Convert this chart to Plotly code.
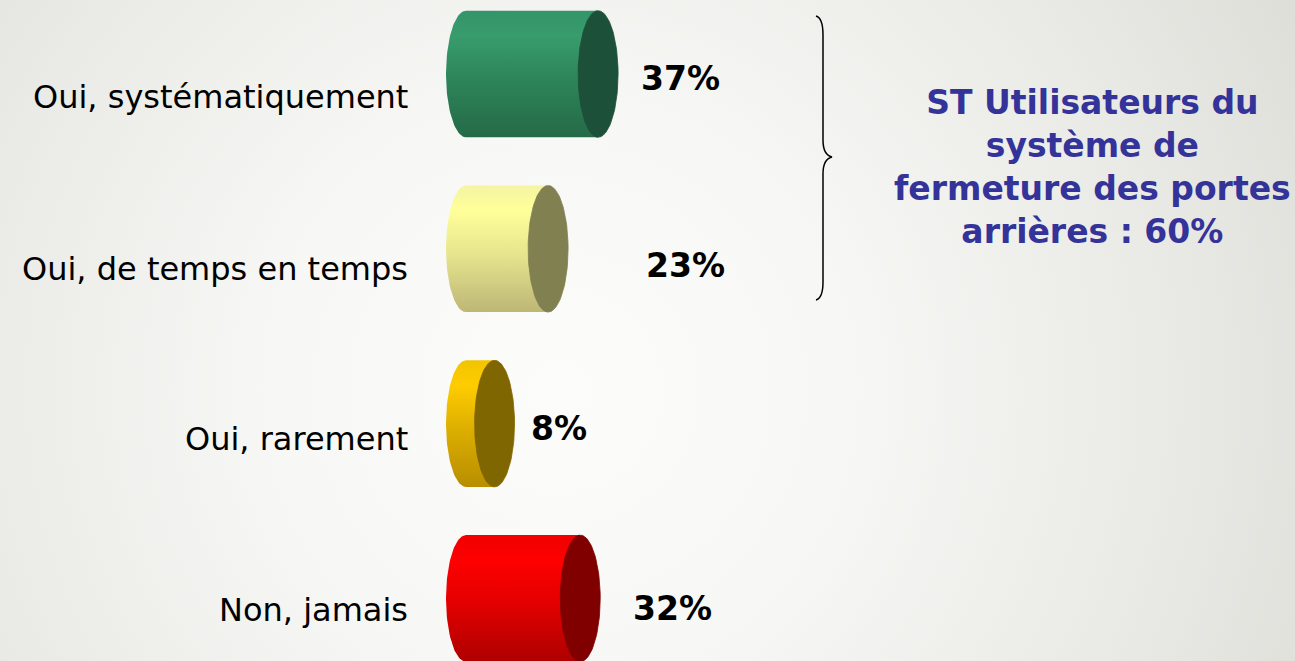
import base64
import numpy as np
import plotly.graph_objects as go

# ---- data ----
categories = ["Oui, systématiquement", "Oui, de temps en temps", "Oui, rarement", "Non, jamais"]
values = [37, 23, 8, 32]
value_labels = ["37%", "23%", "8%", "32%"]
side_note = "ST Utilisateurs du<br>système de<br>fermeture des portes<br>arrières : 60%"

# ---- styles ----
body_scales = [
    [[0, "#34946a"], [0.2, "#389c6c"], [0.55, "#2d8459"], [1, "#256a47"]],
    [[0, "#f4f4a4"], [0.2, "#ffff99"], [0.55, "#e6e48e"], [1, "#bdb676"]],
    [[0, "#f2c400"], [0.2, "#ffcc00"], [0.55, "#dcae00"], [1, "#b88e00"]],
    [[0, "#f00000"], [0.2, "#ff0000"], [0.55, "#e20000"], [1, "#ae0000"]],
]
cap_colors = ["#1d5038", "#808050", "#806600", "#800000"]
label_yshift = [-23, -20, -15, -12]
value_xshift = [41, 96, 34, 51]
value_yshift = [-4, -17, -5, -10]

W, H = 1295, 661
A = 5.6     # half width of ellipse (x units)
HH = 0.362  # half height of cylinder (category units)

fig = go.Figure()
t = np.linspace(-np.pi / 2, np.pi / 2, 60)
tf = np.linspace(0, 2 * np.pi, 120)
for i, (cat, v) in enumerate(zip(categories, values)):
    yc = i
    xs = list(-A * np.cos(t)) + [v, v, 0]
    ys = list(yc + HH * np.sin(t)) + [yc + HH, yc - HH, yc - HH]
    fig.add_trace(go.Scatter(
        x=xs, y=ys, fill="toself", mode="lines", line=dict(width=0),
        fillgradient=dict(type="vertical", colorscale=body_scales[i],
                          start=yc - HH, stop=yc + HH),
        hoverinfo="skip", showlegend=False))
    fig.add_trace(go.Scatter(
        x=v + A * np.cos(tf), y=yc + HH * np.sin(tf), fill="toself", mode="lines",
        line=dict(width=0.8, color=cap_colors[i]), fillcolor=cap_colors[i],
        hoverinfo="skip", showlegend=False))
    fig.add_annotation(x=0, y=yc, xref="x", yref="y", text=cat, showarrow=False,
                       xanchor="right", xshift=-56, yshift=label_yshift[i],
                       font=dict(family="DejaVu Sans", size=32, color="#000000"))
    fig.add_annotation(x=v, y=yc, xref="x", yref="y", text="<b>%s</b>" % value_labels[i],
                       showarrow=False, xanchor="left", xshift=value_xshift[i],
                       yshift=value_yshift[i],
                       font=dict(family="DejaVu Sans", size=33, color="#000000"))

fig.add_annotation(x=1092 / W, y=1 - 167 / H, xref="paper", yref="paper", text="<b>%s</b>" % side_note,
                   showarrow=False, xanchor="center", yanchor="middle", align="center",
                   font=dict(family="DejaVu Sans", size=33, color="#333399"))

def px(x, y):
    return "%.5f,%.5f" % (x / W, 1 - y / H)

brace = ("M " + px(816, 16) + " Q " + px(823, 18) + " " + px(823, 35) +
         " L " + px(823, 140) + " Q " + px(823, 155) + " " + px(832, 157) +
         " Q " + px(823, 159) + " " + px(823, 174) + " L " + px(823, 282) +
         " Q " + px(823, 298) + " " + px(816, 300))
fig.add_shape(type="path", path=brace, xref="paper", yref="paper",
              line=dict(color="#000000", width=1.5))

svg = f'''<svg xmlns="http://www.w3.org/2000/svg" width="{W}" height="{H}" viewBox="0 0 {W} {H}" preserveAspectRatio="none">
<defs><radialGradient id="g" gradientUnits="userSpaceOnUse" cx="560" cy="390" r="820">
<stop offset="0" stop-color="#fcfcfb"/><stop offset="0.35" stop-color="#f7f7f5"/>
<stop offset="0.75" stop-color="#e9e9e5"/><stop offset="1" stop-color="#dfdfda"/></radialGradient></defs>
<rect width="{W}" height="{H}" fill="url(#g)"/></svg>'''
src = "data:image/svg+xml;base64," + base64.b64encode(svg.encode()).decode()
fig.add_layout_image(source=src, xref="paper", yref="paper", x=0, y=1, sizex=1, sizey=1,
                     xanchor="left", yanchor="top", sizing="stretch", layer="below")

PXU = 3.57
x0 = 466
fig.update_xaxes(range=[-x0 / PXU, (W - x0) / PXU], visible=False, fixedrange=True)
fig.update_yaxes(range=[(H - 74) / 174.8, -74 / 174.8], visible=False, fixedrange=True)
fig.update_layout(width=W, height=H, margin=dict(l=0, r=0, t=0, b=0),
                  paper_bgcolor="#f0f0ee", plot_bgcolor="rgba(0,0,0,0)")

fig.write_html("out.html", config={"displayModeBar": False},
               post_script="document.body.style.margin='0';document.body.style.overflow='hidden';")
